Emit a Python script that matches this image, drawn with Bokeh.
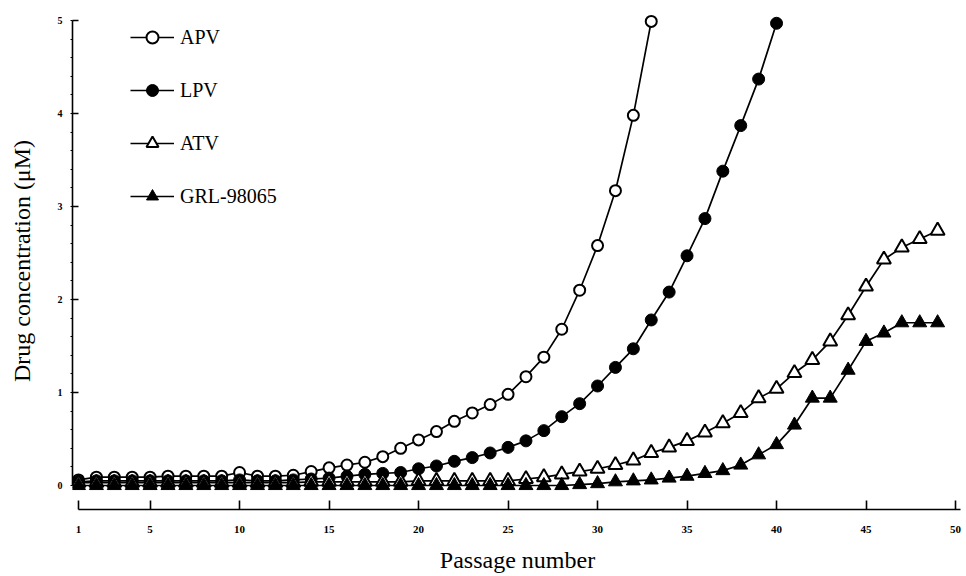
from bokeh.plotting import figure
from bokeh.models import Range1d, FixedTicker, SingleIntervalTicker, Legend, LegendItem
from bokeh.embed import file_html
from bokeh.resources import INLINE

# ---- data ----
apv_x = list(range(1, 34))
apv_y = [0.06, 0.09, 0.09, 0.09, 0.09, 0.10, 0.10, 0.10, 0.10, 0.14,
         0.10, 0.10, 0.11, 0.15, 0.19, 0.22, 0.25, 0.31, 0.40, 0.49,
         0.58, 0.69, 0.78, 0.87, 0.98, 1.17, 1.38, 1.68, 2.10, 2.58,
         3.17, 3.98, 4.99]

lpv_x = list(range(1, 41))
lpv_y = [0.04, 0.05, 0.05, 0.05, 0.05, 0.05, 0.05, 0.05, 0.05, 0.06,
         0.05, 0.05, 0.06, 0.07, 0.08, 0.10, 0.12, 0.13, 0.14, 0.18,
         0.21, 0.26, 0.30, 0.35, 0.41, 0.48, 0.59, 0.74, 0.88, 1.07,
         1.27, 1.47, 1.78, 2.08, 2.47, 2.87, 3.38, 3.87, 4.37, 4.97]

atv_x = list(range(1, 50))
atv_y = [0.03, 0.03, 0.03, 0.03, 0.03, 0.03, 0.03, 0.03, 0.03, 0.03,
         0.03, 0.03, 0.03, 0.04, 0.04, 0.04, 0.04, 0.04, 0.04, 0.05,
         0.05, 0.05, 0.05, 0.05, 0.05, 0.07, 0.09, 0.12, 0.15, 0.18,
         0.22, 0.27, 0.35, 0.41, 0.48, 0.57, 0.67, 0.78, 0.94, 1.04,
         1.21, 1.35, 1.55, 1.83, 2.14, 2.43, 2.56, 2.65, 2.74]

grl_x = list(range(1, 50))
grl_y = [0.00, 0.00, 0.00, 0.00, 0.00, 0.00, 0.00, 0.00, 0.00, 0.00,
         0.00, 0.00, 0.00, 0.00, 0.00, 0.00, 0.00, 0.00, 0.00, 0.00,
         0.00, 0.00, 0.00, 0.00, 0.00, 0.00, 0.00, 0.00, 0.01, 0.02,
         0.04, 0.05, 0.06, 0.08, 0.10, 0.13, 0.16, 0.22, 0.33, 0.44,
         0.65, 0.94, 0.94, 1.24, 1.55, 1.64, 1.75, 1.75, 1.75]

x_ticks = [1, 5, 10, 15, 20, 25, 30, 35, 40, 45, 50]
series_names = ["APV", "LPV", "ATV", "GRL-98065"]

FONT = "Liberation Serif"

p = figure(width=964, height=575, output_backend="svg", toolbar_location=None,
           x_range=Range1d(0.665, 50.39), y_range=Range1d(-0.258, 5.086),
           min_border_left=72, min_border_right=2, min_border_top=12,
           min_border_bottom=66)
p.outline_line_color = None
p.grid.visible = False
p.background_fill_color = "white"
p.border_fill_color = "white"

# x axis
xa = p.xaxis[0]
xa.ticker = FixedTicker(ticks=x_ticks, minor_ticks=[])
xa.bounds = (1, 50.3)
xa.axis_line_width = 1.6
xa.axis_line_color = "black"
xa.major_tick_line_width = 1.6
xa.major_tick_line_color = "black"
xa.major_tick_in = 9
xa.major_tick_out = 0
xa.minor_tick_in = 0
xa.minor_tick_out = 0
xa.major_label_standoff = 16
xa.major_label_text_font = FONT
xa.major_label_text_font_style = "bold"
xa.major_label_text_font_size = "11px"
xa.major_label_text_color = "black"
xa.axis_label = "Passage number"
xa.axis_label_text_font = FONT
xa.axis_label_text_font_style = "normal"
xa.axis_label_text_font_size = "24px"
xa.axis_label_text_color = "black"
xa.axis_label_standoff = 11

# y axis
ya = p.yaxis[0]
ya.ticker = SingleIntervalTicker(interval=1, num_minor_ticks=5)
ya.bounds = (0, 5)
ya.axis_line_width = 1.6
ya.axis_line_color = "black"
ya.major_tick_line_width = 1.6
ya.major_tick_line_color = "black"
ya.major_tick_in = 6
ya.major_tick_out = 0
ya.minor_tick_in = 0
ya.minor_tick_out = 2
ya.minor_tick_line_width = 1
ya.minor_tick_line_color = "black"
ya.major_label_standoff = 8
ya.major_label_text_font = FONT
ya.major_label_text_font_style = "bold"
ya.major_label_text_font_size = "10px"
ya.major_label_text_color = "black"
ya.axis_label = "Drug concentration (\u03bcM)"
ya.axis_label_text_font = FONT
ya.axis_label_text_font_style = "normal"
ya.axis_label_text_font_size = "24px"
ya.axis_label_text_color = "black"
ya.axis_label_standoff = 20

LW = 1.7
items = []

l1 = p.line(apv_x, apv_y, line_color="black", line_width=LW)
m1 = p.scatter(apv_x, apv_y, marker="circle", size=11, fill_color="white",
               line_color="black", line_width=2)
items.append(LegendItem(label=series_names[0], renderers=[l1, m1]))

l2 = p.line(lpv_x, lpv_y, line_color="black", line_width=LW)
m2 = p.scatter(lpv_x, lpv_y, marker="circle", size=12, fill_color="black",
               line_color="black", line_width=1)
items.append(LegendItem(label=series_names[1], renderers=[l2, m2]))

l3 = p.line(atv_x, atv_y, line_color="black", line_width=LW)
m3 = p.scatter(atv_x, atv_y, marker="triangle", size=14, fill_color="white",
               line_color="black", line_width=2)
items.append(LegendItem(label=series_names[2], renderers=[l3, m3]))

l4 = p.line(grl_x, grl_y, line_color="black", line_width=LW)
m4 = p.scatter(grl_x, grl_y, marker="triangle", size=14, fill_color="black",
               line_color="black", line_width=1)
items.append(LegendItem(label=series_names[3], renderers=[l4, m4]))

legend = Legend(items=items, location=(58, 298), padding=0, margin=0,
                border_line_color=None, background_fill_alpha=0,
                glyph_width=44, glyph_height=30, label_height=30,
                spacing=23, label_standoff=6,
                label_text_font=FONT, label_text_font_size="20px",
                label_text_color="black")
p.add_layout(legend)

open("out.html", "w").write(file_html(p, INLINE))
